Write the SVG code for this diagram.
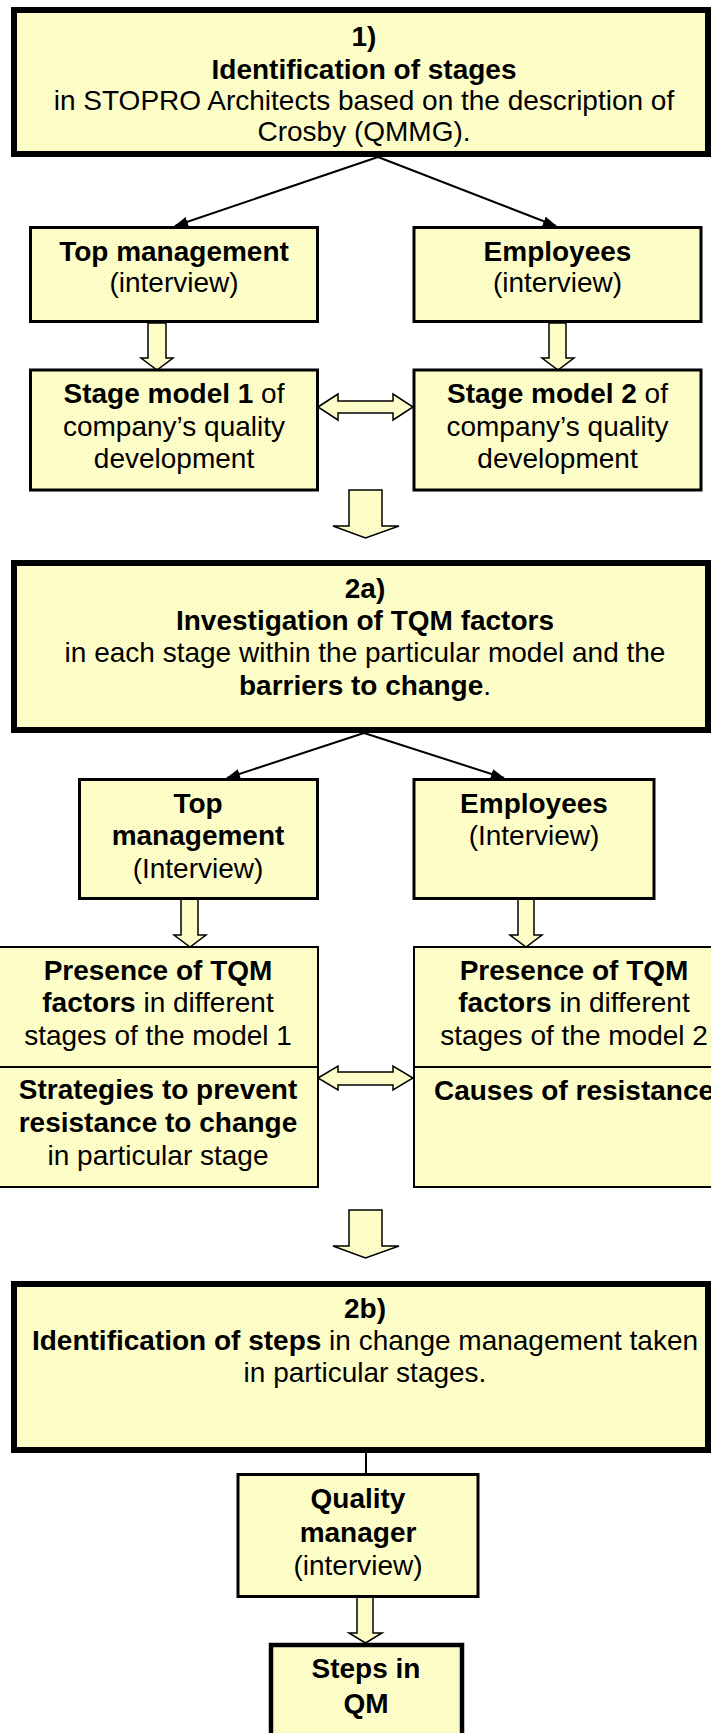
<svg xmlns="http://www.w3.org/2000/svg" width="711" height="1733" viewBox="0 0 711 1733">
<defs>
<pattern id="dots" width="4" height="4" patternUnits="userSpaceOnUse">
<rect width="4" height="4" fill="#ffffcc"/>
<rect width="1" height="1" fill="#efefb4"/>
<rect x="2" y="2" width="1" height="1" fill="#efefb4"/>
</pattern>
<marker id="ah" markerUnits="userSpaceOnUse" markerWidth="14" markerHeight="12" refX="13" refY="5" orient="auto">
<path d="M0,0 L14,5 L0,10 z" fill="#000"/>
</marker>
</defs>
<style>
.big{fill:url(#dots);stroke:#000;stroke-width:6}
.box{fill:url(#dots);stroke:#000;stroke-width:3}
.thin{fill:url(#dots);stroke:#000;stroke-width:2}
.blk{fill:url(#dots);stroke:#000;stroke-width:1.5;stroke-linejoin:miter}
.ln{stroke:#000;stroke-width:2;fill:none}
text{font-family:"Liberation Sans",Arial,sans-serif;font-size:28px;fill:#000;text-anchor:middle}
.b{font-weight:bold}
</style>
<rect width="711" height="1733" fill="#fff"/>

<g id="connectors">
<line class="ln" x1="378" y1="157" x2="175" y2="226" marker-end="url(#ah)"/>
<line class="ln" x1="378" y1="157" x2="556" y2="226" marker-end="url(#ah)"/>
<line class="ln" x1="364" y1="733" x2="227" y2="778" marker-end="url(#ah)"/>
<line class="ln" x1="364" y1="733" x2="504" y2="778" marker-end="url(#ah)"/>
<line class="ln" x1="366" y1="1452" x2="366" y2="1474"/>
<polygon class="blk" points="148,323 166,323 166,358 173,358 157,370 141,358 148,358"/>
<polygon class="blk" points="549,323 566,323 566,358 574,358 558,370 542,358 549,358"/>
<polygon class="blk" points="318,407 338,394 338,401 393,401 393,394 413,407 393,420 393,413 338,413 338,420"/>
<polygon class="blk" points="349,490 382,490 382,526 399,526 365.5,538 333,526 349,526"/>
<polygon class="blk" points="181,899 198,899 198,935 206,935 190,947 174,935 181,935"/>
<polygon class="blk" points="518,899 534,899 534,935 542,935 526,947 510,935 518,935"/>
<polygon class="blk" points="318,1078 338,1066 338,1072 393,1072 393,1066 413,1078 393,1090 393,1085 338,1085 338,1090"/>
<polygon class="blk" points="349,1210 382,1210 382,1246 399,1246 365.5,1258 333,1246 349,1246"/>
<polygon class="blk" points="357,1597 373,1597 373,1633 382,1633 365.5,1643 349,1633 357,1633"/>
</g>

<g id="n1">
<rect class="big" x="14" y="10" width="694" height="144"/>
<text x="364" y="46" class="b">1)</text>
<text x="364" y="79" class="b">Identification of stages</text>
<text x="364" y="110">in STOPRO Architects based on the description of</text>
<text x="364" y="141">Crosby (QMMG).</text>
</g>

<g id="n-top1">
<rect class="box" x="30.5" y="227.5" width="287" height="94"/>
<text x="174" y="261" class="b">Top management</text>
<text x="174" y="292">(interview)</text>
</g>

<g id="n-emp1">
<rect class="box" x="414" y="227.5" width="287" height="94"/>
<text x="557.5" y="261" class="b">Employees</text>
<text x="557.5" y="292">(interview)</text>
</g>

<g id="n-sm1">
<rect class="box" x="30.5" y="370" width="287" height="120"/>
<text x="174" y="403"><tspan class="b">Stage model 1</tspan> of</text>
<text x="174" y="436">company’s quality</text>
<text x="174" y="468">development</text>
</g>

<g id="n-sm2">
<rect class="box" x="414" y="370" width="287" height="120"/>
<text x="557.5" y="403"><tspan class="b">Stage model 2</tspan> of</text>
<text x="557.5" y="436">company’s quality</text>
<text x="557.5" y="468">development</text>
</g>

<g id="n2a">
<rect class="big" x="14" y="563" width="694" height="167"/>
<text x="365" y="598" class="b">2a)</text>
<text x="365" y="630" class="b">Investigation of TQM factors</text>
<text x="365" y="662">in each stage within the particular model and the</text>
<text x="365" y="695"><tspan class="b">barriers to change</tspan>.</text>
</g>

<g id="n-top2">
<rect class="box" x="79.5" y="779.5" width="238" height="119"/>
<text x="198" y="813" class="b">Top</text>
<text x="198" y="845" class="b">management</text>
<text x="198" y="878">(Interview)</text>
</g>

<g id="n-emp2">
<rect class="box" x="414" y="779.5" width="240" height="119"/>
<text x="534" y="813" class="b">Employees</text>
<text x="534" y="845">(Interview)</text>
</g>

<g id="n-pres1">
<rect class="thin" x="-2" y="947" width="320" height="120"/>
<text x="158" y="980" class="b">Presence of TQM</text>
<text x="158" y="1012"><tspan class="b">factors</tspan> in different</text>
<text x="158" y="1045">stages of the model 1</text>
</g>

<g id="n-strat">
<rect class="thin" x="-2" y="1067" width="320" height="120"/>
<text x="158" y="1099" class="b">Strategies to prevent</text>
<text x="158" y="1132" class="b">resistance to change</text>
<text x="158" y="1165">in particular stage</text>
</g>

<g id="n-pres2">
<rect class="thin" x="414" y="947" width="330" height="120"/>
<text x="574" y="980" class="b">Presence of TQM</text>
<text x="574" y="1012"><tspan class="b">factors</tspan> in different</text>
<text x="574" y="1045">stages of the model 2</text>
</g>

<g id="n-causes">
<rect class="thin" x="414" y="1067" width="330" height="120"/>
<text x="574" y="1100" class="b">Causes of resistance</text>
</g>

<g id="n2b">
<rect class="big" x="14" y="1284" width="694" height="166"/>
<text x="365" y="1318" class="b">2b)</text>
<text x="365" y="1350"><tspan class="b">Identification of steps</tspan> in change management taken</text>
<text x="365" y="1382">in particular stages.</text>
</g>

<g id="n-qm">
<rect class="box" x="238" y="1474.5" width="240" height="122"/>
<text x="358" y="1508" class="b">Quality</text>
<text x="358" y="1542" class="b">manager</text>
<text x="358" y="1575">(interview)</text>
</g>

<g id="n-steps">
<rect fill="url(#dots)" stroke="#000" stroke-width="4.5" x="271" y="1645" width="191" height="100"/>
<text x="366" y="1678" class="b">Steps in</text>
<text x="366" y="1713" class="b">QM</text>
</g>
</svg>
